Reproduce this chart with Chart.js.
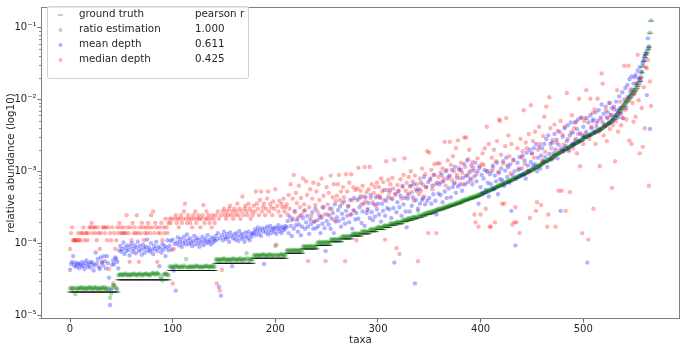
<!DOCTYPE html>
<html>
<head>
<meta charset="utf-8">
<script src="https://cdn.jsdelivr.net/npm/chart.js@4.4.0/dist/chart.umd.min.js"></script>
<style>
  html, body { margin: 0; padding: 0; background: #fff; }
</style>
</head>
<body>
<canvas id="myChart" width="685" height="345"></canvas>
<script>
// values are log10(relative abundance) x 100, one per taxon (taxa ranked 0..566)
const groundTruth = [
  -468,-468,-468,-468,-468,-468,-468,-468,-468,-468,
  -468,-468,-468,-468,-468,-468,-468,-468,-468,-468,
  -468,-468,-468,-468,-468,-468,-468,-468,-468,-468,
  -468,-468,-468,-468,-468,-468,-468,-468,-468,-468,
  -468,-468,-468,-468,-468,-468,-468,-451,-451,-451,
  -451,-451,-451,-451,-451,-451,-451,-451,-451,-451,
  -451,-451,-451,-451,-451,-451,-451,-451,-451,-451,
  -451,-451,-451,-451,-451,-451,-451,-451,-451,-451,
  -451,-451,-451,-451,-451,-451,-451,-451,-451,-451,
  -451,-451,-451,-451,-451,-451,-451,-438,-438,-438,
  -438,-438,-438,-438,-438,-438,-438,-438,-438,-438,
  -438,-438,-438,-438,-438,-438,-438,-438,-438,-438,
  -438,-438,-438,-438,-438,-438,-438,-438,-438,-438,
  -438,-438,-438,-438,-438,-438,-438,-438,-438,-438,
  -438,-438,-428,-428,-428,-428,-428,-428,-428,-428,
  -428,-428,-428,-428,-428,-428,-428,-428,-428,-428,
  -428,-428,-428,-428,-428,-428,-428,-428,-428,-428,
  -428,-428,-428,-428,-428,-428,-428,-428,-428,-421,
  -421,-421,-421,-421,-421,-421,-421,-421,-421,-421,
  -421,-421,-421,-421,-421,-421,-421,-421,-421,-421,
  -421,-421,-421,-421,-421,-421,-421,-421,-421,-421,
  -421,-414,-414,-414,-414,-414,-414,-414,-414,-414,
  -414,-414,-414,-414,-414,-414,-414,-408,-408,-408,
  -408,-408,-408,-408,-408,-408,-408,-408,-408,-408,
  -408,-403,-403,-403,-403,-403,-403,-403,-403,-403,
  -403,-403,-403,-403,-398,-398,-398,-398,-398,-398,
  -398,-398,-398,-398,-398,-394,-394,-394,-394,-394,
  -394,-394,-394,-394,-394,-390,-390,-390,-390,-390,
  -390,-390,-390,-390,-387,-387,-387,-387,-387,-387,
  -387,-387,-384,-384,-384,-384,-384,-384,-384,-381,
  -381,-381,-381,-381,-381,-381,-378,-378,-378,-378,
  -378,-378,-375,-375,-375,-375,-375,-375,-373,-373,
  -373,-373,-373,-373,-370,-370,-370,-370,-370,-368,
  -368,-368,-368,-368,-366,-366,-366,-366,-366,-364,
  -364,-364,-364,-362,-362,-362,-362,-360,-360,-360,
  -360,-359,-359,-359,-357,-357,-357,-355,-355,-355,
  -354,-354,-353,-353,-352,-352,-351,-351,-350,-350,
  -349,-349,-348,-348,-347,-347,-346,-346,-345,-345,
  -344,-344,-343,-342,-342,-341,-341,-340,-340,-339,
  -339,-338,-338,-337,-337,-336,-336,-335,-335,-334,
  -333,-333,-332,-331,-331,-330,-329,-329,-328,-327,
  -327,-326,-325,-325,-324,-323,-323,-322,-321,-321,
  -320,-319,-319,-318,-317,-317,-316,-315,-315,-314,
  -313,-313,-312,-311,-310,-310,-309,-308,-308,-307,
  -306,-306,-305,-304,-304,-303,-302,-301,-301,-300,
  -299,-298,-297,-296,-296,-295,-294,-293,-292,-291,
  -290,-289,-288,-288,-287,-286,-285,-284,-283,-282,
  -281,-280,-279,-278,-277,-277,-276,-275,-274,-273,
  -272,-271,-271,-270,-269,-268,-267,-266,-266,-265,
  -264,-263,-262,-262,-261,-260,-259,-258,-258,-257,
  -255,-254,-254,-253,-252,-251,-251,-250,-249,-248,
  -248,-247,-246,-245,-245,-244,-243,-242,-241,-240,
  -239,-238,-237,-236,-235,-234,-233,-232,-231,-229,
  -228,-226,-224,-222,-220,-218,-216,-214,-212,-210,
  -208,-206,-204,-203,-201,-199,-197,-195,-193,-191,
  -189,-187,-185,-182,-179,-175,-170,-163,-155,-147,
  -142,-138,-135,-131,-127,-108,-91
];

const ratioEstimation = [
  -463,-462,-464,-463,-462,-471,-463,-464,-462,-463,
  -462,-463,-461,-464,-463,-462,-463,-464,-462,-461,
  -463,-462,-464,-463,-461,-463,-462,-464,-463,-462,
  -464,-462,-463,-461,-463,-464,-462,-466,-463,-476,
  -470,-462,-459,-458,-461,-463,-464,-445,-444,-443,
  -444,-445,-443,-444,-442,-444,-445,-443,-444,-445,
  -443,-444,-442,-444,-443,-445,-444,-443,-442,-444,
  -445,-443,-444,-443,-442,-444,-443,-444,-445,-443,
  -442,-441,-443,-444,-442,-441,-443,-444,-450,-448,
  -452,-444,-443,-442,-444,-443,-445,-432,-434,-433,
  -432,-434,-433,-431,-432,-433,-434,-433,-432,-434,
  -433,-431,-433,-422,-434,-433,-432,-434,-433,-432,
  -433,-434,-432,-431,-433,-432,-434,-433,-432,-434,
  -433,-432,-433,-431,-432,-434,-433,-432,-433,-431,
  -434,-432,-423,-422,-424,-423,-422,-424,-423,-422,
  -421,-423,-424,-423,-422,-423,-424,-422,-423,-421,
  -423,-422,-424,-423,-422,-423,-421,-423,-424,-422,
  -423,-422,-414,-421,-424,-423,-422,-422,-423,-417,
  -416,-418,-417,-416,-417,-418,-416,-417,-415,-417,
  -416,-418,-417,-416,-417,-415,-417,-418,-416,-417,
  -404,-416,-417,-418,-416,-417,-415,-416,-417,-418,
  -416,-410,-411,-409,-410,-411,-410,-409,-411,-410,
  -409,-410,-411,-410,-409,-410,-411,-405,-404,-406,
  -405,-404,-405,-406,-404,-405,-404,-406,-405,-404,
  -405,-399,-400,-398,-399,-400,-399,-398,-400,-399,
  -398,-399,-400,-399,-395,-394,-396,-395,-394,-395,
  -396,-394,-395,-393,-395,-391,-390,-392,-391,-390,
  -391,-392,-390,-391,-390,-387,-388,-386,-387,-388,
  -386,-387,-388,-387,-384,-383,-385,-384,-383,-384,
  -385,-384,-381,-382,-380,-381,-382,-381,-380,-378,
  -379,-377,-378,-379,-378,-377,-376,-375,-376,-377,
  -375,-376,-373,-372,-374,-373,-372,-373,-371,-370,
  -371,-372,-370,-371,-368,-369,-367,-368,-368,-366,
  -365,-366,-367,-365,-364,-363,-365,-364,-363,-355,
  -361,-362,-363,-360,-361,-359,-360,-358,-359,-357,
  -358,-357,-356,-357,-355,-356,-354,-353,-354,-352,
  -352,-353,-351,-352,-350,-351,-349,-350,-348,-349,
  -347,-348,-346,-347,-345,-346,-344,-345,-343,-344,
  -342,-343,-341,-340,-341,-339,-340,-338,-339,-337,
  -337,-336,-337,-335,-336,-334,-335,-333,-334,-332,
  -331,-332,-330,-330,-329,-328,-328,-327,-326,-326,
  -325,-324,-324,-323,-322,-322,-321,-320,-320,-319,
  -318,-318,-317,-316,-316,-315,-314,-314,-313,-312,
  -312,-311,-310,-310,-309,-308,-307,-307,-306,-305,
  -305,-304,-303,-303,-302,-301,-300,-300,-299,-298,
  -297,-297,-296,-295,-294,-293,-293,-292,-291,-290,
  -289,-288,-287,-286,-286,-285,-284,-283,-282,-281,
  -280,-279,-278,-277,-276,-275,-275,-274,-273,-272,
  -271,-270,-269,-269,-268,-267,-266,-265,-265,-264,
  -263,-262,-261,-260,-260,-259,-258,-257,-256,-256,
  -254,-253,-252,-252,-251,-250,-249,-249,-248,-247,
  -246,-246,-245,-244,-243,-243,-242,-241,-240,-239,
  -238,-237,-236,-235,-234,-233,-232,-231,-229,-228,
  -226,-225,-223,-221,-219,-217,-215,-213,-211,-209,
  -207,-205,-203,-201,-200,-198,-196,-194,-192,-190,
  -188,-186,-183,-181,-177,-173,-168,-161,-153,-146,
  -141,-137,-134,-130,-126,-107,-90
];

const meanDepth = [
  -437,-429,-426,-418,-431,-427,-433,-430,-428,-435,
  -429,-432,-426,-431,-436,-428,-424,-433,-430,-427,
  -434,-426,-429,-438,-431,-413,-428,-422,-433,-436,
  -420,-427,-431,-418,-425,-435,-418,-428,-448,-486,
  -465,-430,-424,-429,-420,-422,-426,-435,-410,-404,
  -412,-408,-399,-415,-406,-411,-403,-409,-417,-405,
  -400,-412,-408,-403,-414,-406,-398,-411,-404,-409,
  -416,-402,-407,-413,-405,-395,-410,-406,-412,-400,
  -409,-415,-404,-408,-398,-411,-405,-432,-407,-413,
  -401,-409,-404,-418,-406,-396,-410,-404,-397,-409,
  -395,-438,-401,-466,-399,-392,-403,-398,-394,-405,
  -400,-391,-397,-402,-388,-396,-401,-393,-399,-404,
  -397,-390,-402,-396,-393,-400,-405,-395,-399,-391,
  -403,-397,-394,-400,-389,-398,-396,-402,-392,-399,
  -394,-397,-390,-395,-386,-461,-393,-473,-389,-396,
  -384,-391,-394,-387,-392,-398,-385,-390,-432,-393,
  -388,-395,-386,-391,-397,-383,-389,-394,-387,-392,
  -398,-385,-390,-393,-384,-396,-388,-391,-386,-386,
  -381,-389,-383,-378,-387,-382,-390,-379,-384,-429,
  -380,-385,-377,-388,-382,-376,-386,-381,-379,-384,
  -378,-387,-380,-375,-383,-379,-386,-377,-382,-380,
  -376,-378,-369,-386,-363,-376,-390,-366,-380,-355,
  -375,-368,-384,-374,-362,-389,-377,-365,-355,-380,
  -371,-362,-377,-387,-367,-373,-357,-380,-370,-352,
  -379,-368,-376,-361,-386,-364,-373,-350,-379,-411,
  -369,-360,-374,-352,-380,-366,-358,-386,-346,-370,
  -364,-354,-369,-349,-377,-359,-366,-342,-373,-355,
  -362,-349,-371,-340,-360,-380,-354,-337,-367,-358,
  -340,-366,-350,-335,-372,-356,-345,-376,-336,-358,
  -354,-344,-365,-333,-357,-368,-346,-363,-336,-353,
  -345,-360,-337,-370,-345,-355,-326,-362,-341,-351,
  -336,-353,-326,-365,-339,-351,-427,-331,-357,-343,
  -327,-350,-334,-362,-320,-346,-337,-356,-378,-338,
  -331,-356,-320,-348,-336,-318,-456,-340,-327,-352,
  -325,-345,-316,-340,-337,-308,-346,-322,-341,-315,
  -337,-310,-345,-320,-332,-305,-341,-360,-316,-331,
  -318,-333,-305,-343,-314,-328,-300,-337,-310,-324,
  -306,-336,-298,-322,-317,-294,-330,-309,-321,-298,
  -318,-298,-327,-309,-290,-318,-306,-285,-315,-302,
  -310,-292,-318,-299,-307,-288,-314,-300,-345,-295,
  -322,-305,-330,-310,-298,-326,-300,-316,-335,-304,
  -318,-300,-292,-325,-306,-314,-288,-332,-302,-311,
  -296,-312,-286,-320,-299,-281,-308,-294,-316,-290,
  -355,-305,-284,-300,-403,-310,-288,-298,-280,-306,
  -296,-278,-304,-285,-310,-274,-292,-300,-270,-287,
  -275,-292,-268,-290,-262,-300,-281,-266,-296,-278,
  -268,-286,-262,-280,-255,-294,-250,-276,-262,-284,
  -260,-275,-248,-270,-256,-282,-263,-245,-355,-268,
  -252,-272,-240,-265,-258,-236,-270,-250,-232,-262,
  -246,-262,-232,-255,-241,-228,-258,-247,-225,-250,
  -238,-252,-226,-245,-427,-232,-250,-222,-240,-230,
  -228,-245,-218,-238,-230,-215,-242,-225,-207,-232,
  -220,-236,-210,-225,-218,-232,-205,-222,-212,-228,
  -210,-222,-203,-215,-225,-196,-212,-220,-190,-226,
  -200,-184,-212,-180,-196,-172,-190,-168,-186,-178,
  -169,-166,-178,-160,-171,-155,-174,-162,-150,-146,
  -140,-136,-194,-115,-128,-241
];

const medianDepth = [
  -408,-386,-378,-396,-396,-396,-396,-396,-386,-396,
  -396,-386,-386,-378,-396,-386,-386,-396,-386,-378,
  -378,-372,-386,-378,-378,-386,-396,-378,-386,-408,
  -386,-426,-378,-378,-386,-378,-396,-378,-436,-386,
  -396,-378,-456,-386,-408,-396,-378,-386,-372,-378,
  -386,-386,-378,-386,-386,-361,-378,-386,-426,-378,
  -396,-372,-386,-378,-386,-361,-386,-426,-378,-386,
  -372,-378,-396,-386,-378,-386,-372,-378,-386,-361,
  -378,-356,-386,-372,-378,-426,-386,-378,-386,-372,
  -396,-378,-386,-366,-378,-386,-372,-366,-372,-366,
  -456,-408,-366,-361,-372,-366,-378,-366,-361,-372,
  -366,-356,-345,-366,-372,-361,-366,-372,-366,-378,
  -361,-366,-356,-372,-366,-361,-366,-378,-366,-361,
  -347,-372,-366,-356,-366,-361,-372,-366,-378,-361,
  -366,-372,-361,-456,-356,-366,-466,-361,-437,-356,
  -352,-361,-366,-356,-361,-352,-348,-361,-356,-366,
  -352,-361,-356,-345,-361,-352,-366,-356,-335,-361,
  -352,-348,-356,-361,-345,-352,-366,-356,-361,-348,
  -356,-328,-345,-352,-361,-340,-328,-356,-350,-345,
  -361,-352,-338,-328,-356,-345,-350,-361,-342,-352,
  -325,-402,-348,-356,-341,-362,-345,-350,-338,-356,
  -350,-346,-360,-333,-352,-318,-368,-338,-305,-357,
  -330,-344,-365,-320,-350,-337,-360,-310,-346,-354,
  -314,-333,-425,-350,-325,-362,-338,-316,-370,-347,
  -328,-356,-318,-340,-365,-310,-350,-334,-360,-425,
  -322,-346,-330,-362,-306,-352,-336,-318,-368,-341,
  -334,-318,-305,-340,-328,-345,-322,-336,-425,-304,
  -328,-348,-316,-360,-304,-340,-322,-355,-326,-396,
  -324,-295,-338,-327,-346,-320,-335,-294,-342,-329,
  -352,-325,-294,-337,-318,-343,-330,-322,-348,-316,
  -334,-322,-335,-310,-328,-315,-340,-395,-286,-326,
  -312,-330,-318,-337,-309,-324,-284,-333,-407,-319,
  -328,-415,-311,-338,-322,-305,-282,-327,-316,-334,
  -308,-321,-300,-329,-314,-341,-306,-325,-318,-425,
  -332,-310,-327,-296,-319,-335,-304,-322,-272,-386,
  -274,-312,-298,-325,-305,-290,-318,-386,-289,-308,
  -289,-302,-315,-296,-310,-259,-320,-298,-285,-307,
  -259,-291,-312,-279,-300,-316,-268,-305,-257,-295,
  -310,-288,-302,-318,-253,-294,-253,-306,-283,-270,
  -299,-312,-287,-295,-360,-371,-304,-282,-377,-293,
  -360,-290,-275,-291,-268,-352,-238,-300,-262,-377,
  -377,-281,-295,-270,-371,-286,-258,-301,-228,-230,
  -277,-345,-289,-345,-265,-226,-292,-250,-279,-303,
  -262,-374,-285,-371,-350,-371,-268,-296,-386,-255,
  -281,-272,-215,-290,-260,-268,-299,-248,-365,-208,
  -275,-258,-281,-245,-355,-343,-270,-238,-262,-347,
  -285,-251,-224,-273,-210,-377,-360,-197,-240,-268,
  -256,-282,-235,-377,-260,-244,-327,-271,-230,-327,
  -249,-263,-238,-355,-191,-255,-272,-329,-246,-222,
  -268,-240,-257,-231,-275,-248,-199,-293,-226,-386,
  -262,-230,-248,-187,-226,-395,-255,-199,-238,-219,
  -352,-214,-262,-233,-199,-245,-293,-228,-164,-178,
  -250,-237,-215,-258,-226,-205,-241,-222,-323,-236,
  -214,-286,-230,-187,-245,-219,-203,-236,-226,-210,
  -153,-215,-228,-198,-153,-257,-186,-262,-205,-231,
  -192,-224,-178,-138,-201,-275,-170,-212,-266,-183,
  -240,-155,-157,-145,-320,-175,-209
];

const seriesNames = ['ground truth', 'ratio estimation', 'mean depth', 'median depth'];
const pearsonR = ['pearson r', '1.000', '0.611', '0.425'];
const xTicks = [0, 100, 200, 300, 400, 500];
const yTicks = [1e-5, 1e-4, 1e-3, 1e-2, 1e-1];

const colors = ['rgba(0,0,0,0.4)', 'rgba(0,128,0,0.3)', 'rgba(0,0,255,0.3)', 'rgba(255,0,0,0.3)'];

Chart.defaults.font.family = 'DejaVu Sans';
Chart.defaults.color = '#262626';

function toPoints(arr) {
  return arr.map((v, i) => ({ x: i, y: Math.pow(10, v / 100) }));
}

const supMap = { '-': '\u207b', '0': '\u2070', '1': '\u00b9', '2': '\u00b2', '3': '\u00b3',
  '4': '\u2074', '5': '\u2075', '6': '\u2076', '7': '\u2077', '8': '\u2078', '9': '\u2079' };
function powLabel(v) {
  const e = String(Math.round(Math.log10(v)));
  return '10' + e.split('').map(c => supMap[c]).join('');
}

// frame, minor ticks and the legend table
const extras = {
  id: 'extras',
  afterDraw(chart) {
    const ctx = chart.ctx;
    const a = chart.chartArea;
    const ys = chart.scales.y;
    ctx.save();
    ctx.strokeStyle = '#808080';
    ctx.lineWidth = 1;
    ctx.strokeRect(a.left + 0.5, a.top + 0.5, a.right - a.left - 1, a.bottom - a.top - 1);

    ctx.strokeStyle = '#444';
    ctx.lineWidth = 0.6;
    for (let e = -6; e <= 0; e++) {
      for (let m = 2; m <= 9; m++) {
        const v = m * Math.pow(10, e);
        if (v < ys.min || v > ys.max) continue;
        const y = Math.round(ys.getPixelForValue(v)) + 0.5;
        ctx.beginPath();
        ctx.moveTo(a.left - 2, y);
        ctx.lineTo(a.left, y);
        ctx.stroke();
      }
    }

    // legend
    const bx = 47.5, by = 6.5, bw = 201, bh = 72;
    ctx.beginPath();
    ctx.roundRect(bx, by, bw, bh, 2);
    ctx.fillStyle = 'rgba(255,255,255,0.8)';
    ctx.fill();
    ctx.strokeStyle = '#d0d0d0';
    ctx.lineWidth = 1;
    ctx.stroke();

    const rowY = [14.5, 29.5, 44.5, 59.5];
    ctx.font = '10.3px "DejaVu Sans"';
    ctx.textBaseline = 'middle';
    ctx.textAlign = 'left';
    seriesNames.forEach((name, i) => {
      const y = rowY[i];
      if (i === 0) {
        ctx.strokeStyle = 'rgba(0,0,0,0.4)';
        ctx.lineWidth = 1;
        ctx.beginPath();
        ctx.moveTo(58, y + 0.5);
        ctx.lineTo(63, y + 0.5);
        ctx.stroke();
      } else {
        ctx.fillStyle = colors[i];
        ctx.beginPath();
        ctx.arc(60.5, y + 0.5, 2, 0, Math.PI * 2);
        ctx.fill();
      }
      ctx.fillStyle = '#262626';
      ctx.fillText(name, 79, y);
      ctx.fillText(pearsonR[i], 195, y);
    });
    ctx.restore();
  }
};

const datasets = [groundTruth, ratioEstimation, meanDepth, medianDepth].map((arr, i) => ({
  label: seriesNames[i],
  data: toPoints(arr),
  order: 4 - i,
  pointStyle: i === 0 ? 'line' : 'circle',
  pointRadius: i === 0 ? 3.2 : 2.2,
  pointBorderWidth: i === 0 ? 1 : 0,
  pointBorderColor: colors[i],
  pointBackgroundColor: colors[i],
  showLine: false
}));

const myChart = new Chart(document.getElementById('myChart'), {
  type: 'scatter',
  data: { datasets: datasets },
  options: {
    responsive: false,
    animation: false,
    layout: { padding: { top: 1, right: 1, left: 0, bottom: 0 } },
    plugins: { legend: { display: false }, tooltip: { enabled: false } },
    scales: {
      x: {
        type: 'linear',
        min: -28.3,
        max: 594.3,
        afterBuildTicks: s => { s.ticks = xTicks.map(v => ({ value: v })); },
        afterFit: s => { s.height = 26; },
        ticks: { font: { size: 10 }, padding: 1, maxRotation: 0 },
        grid: { drawOnChartArea: false, tickLength: 3.5, tickColor: '#444', tickWidth: 0.8 },
        border: { display: false },
        title: { display: true, text: 'taxa', font: { size: 10.3, lineHeight: 1 }, padding: 0 }
      },
      y: {
        type: 'logarithmic',
        min: Math.pow(10, -5.055),
        max: Math.pow(10, -0.714),
        afterBuildTicks: s => { s.ticks = yTicks.map(v => ({ value: v })); },
        afterFit: s => { s.width = 41; },
        ticks: { font: { size: 10 }, padding: 1, callback: v => powLabel(v) },
        grid: { drawOnChartArea: false, tickLength: 3.5, tickColor: '#444', tickWidth: 0.8 },
        border: { display: false },
        title: { display: true, text: 'relative abundance (log10)', font: { size: 10.3 }, padding: { top: 5, bottom: 0 } }
      }
    }
  },
  plugins: [extras]
});
</script>
</body>
</html>
